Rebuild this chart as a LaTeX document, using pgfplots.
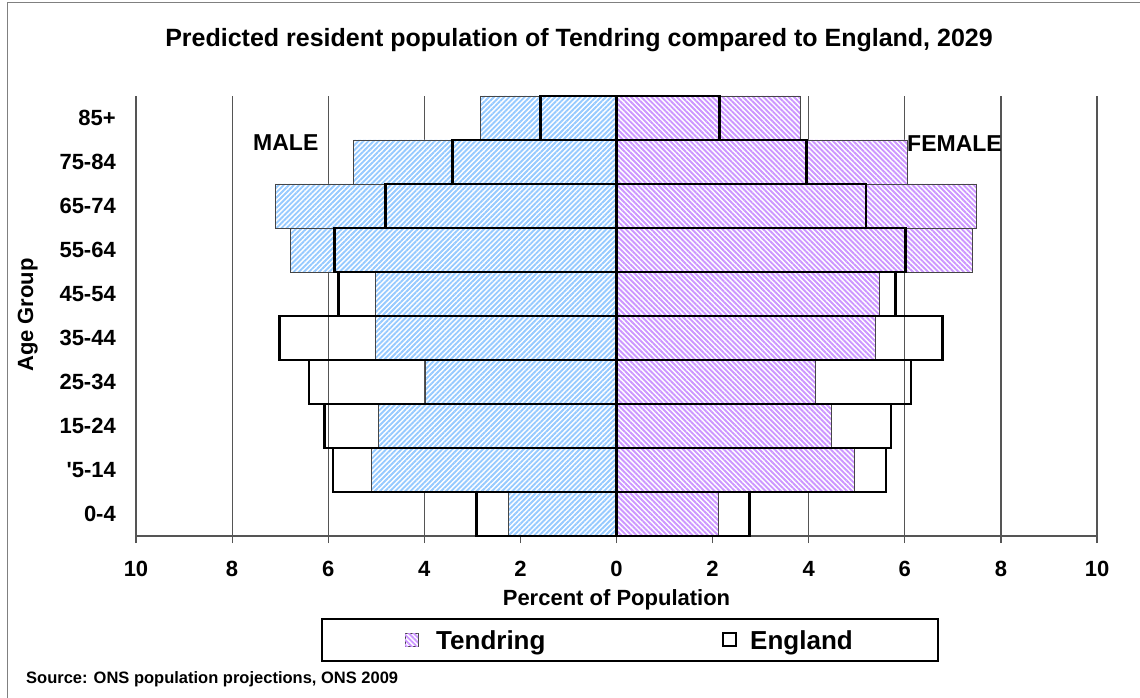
\documentclass[border=0pt]{standalone}
\usepackage{fontspec}
\setmainfont{Liberation Sans}
\usepackage{pgfplots}
\pgfplotsset{compat=1.18}
\usetikzlibrary{patterns.meta}

\definecolor{maleblue}{RGB}{150,202,255}
\definecolor{femlilac}{RGB}{204,150,255}
\definecolor{gridgray}{RGB}{85,85,85}
\definecolor{edgegray}{RGB}{70,70,70}

\newcommand{\fs}[1]{\fontsize{#1}{#1}\selectfont}

\tikzset{
  malehatch/.style={pattern={Lines[angle=45,distance=3.6pt,line width=1.9pt]}, pattern color=maleblue},
  femhatch/.style={pattern={Lines[angle=-45,distance=3.6pt,line width=1.9pt]}, pattern color=femlilac},
}

\begin{document}
\begin{tikzpicture}[x=1pt,y=1pt]
\useasboundingbox (0,0) rectangle (1140,-698);
% chart frame
\draw[gray, line width=1pt] (7,-705) -- (7,-3) -- (1147,-3);

\begin{axis}[
  at={(136pt,-536pt)}, anchor=south west,
  scale only axis, width=961pt, height=440pt,
  xmin=-10, xmax=10, ymin=-0.5, ymax=9.5,
  xbar, bar width=1,
  axis x line*=bottom, axis y line*=left,
  y axis line style={draw=none},
  x axis line style={gridgray, line width=1.2pt},
  tick align=outside,
  major tick length=7pt,
  xtick={-10,-8,...,10},
  xticklabels={10,8,6,4,2,0,2,4,6,8,10},
  xtick style={gridgray, line width=1.2pt},
  ytick={0,...,9},
  yticklabels={0-4,\textquotesingle5-14,15-24,25-34,35-44,45-54,55-64,65-74,75-84,85+},
  ytick style={draw=none},
  xmajorgrids,
  grid style={gridgray, line width=1.2pt},
  /pgf/number format/assume math mode=true,
  ticklabel style={font=\bfseries\fs{22}},
  xticklabel style={anchor=base, inner sep=0pt, yshift=-33pt},
  yticklabel style={anchor=east, inner sep=0pt, xshift=-13pt},
  xlabel={Percent of Population},
  every axis x label/.style={at={(axis description cs:0.5,0)}, anchor=base, yshift=-69pt, font=\bfseries\fs{22}},
]
% Tendring, male (negative) and female
\addplot[xbar, bar shift=0pt, fill=white, postaction={malehatch}, draw=edgegray, line width=0.9pt] coordinates {
(-2.24,0) (-5.10,1) (-4.96,2) (-3.98,3) (-5.01,4) (-5.01,5) (-6.78,6) (-7.10,7) (-5.47,8) (-2.84,9)
};
\addplot[xbar, bar shift=0pt, fill=white, postaction={femhatch}, draw=edgegray, line width=0.9pt] coordinates {
(2.12,0) (4.96,1) (4.47,2) (4.15,3) (5.38,4) (5.48,5) (7.41,6) (7.50,7) (6.06,8) (3.83,9)
};
% England, male and female
\addplot[xbar, bar shift=0pt, draw=black, line width=2.7pt] coordinates {
(-2.91,0) (-5.90,1) (-6.08,2) (-6.40,3) (-7.01,4) (-5.78,5) (-5.87,6) (-4.81,7) (-3.41,8) (-1.58,9)
};
\addplot[xbar, bar shift=0pt, draw=black, line width=2.7pt] coordinates {
(2.77,0) (5.61,1) (5.71,2) (6.13,3) (6.79,4) (5.80,5) (6.02,6) (5.19,7) (3.96,8) (2.14,9)
};
\end{axis}

% axis title on the left
\node[rotate=90, anchor=base, inner sep=0pt, font=\bfseries\fs{22}] at (33,-315) {Age Group};

% title and annotations
\node[anchor=base, font=\bfseries\fs{25}] at (579,-47) {Predicted resident population of Tendring compared to England, 2029};
\node[anchor=base west, inner sep=0pt, font=\bfseries\fs{23}] at (253,-150) {MALE};
\node[anchor=base west, inner sep=0pt, font=\bfseries\fs{23}] at (907,-151) {FEMALE};

% legend
\draw[black, line width=1.2pt] (322,-619) rectangle (938,-661);
\draw[edgegray, line width=0.8pt, fill=white, postaction={femhatch}] (405,-633) rectangle (418,-646);
\node[anchor=base west, inner sep=0pt, font=\bfseries\fs{26}] at (436,-649) {Tendring};
\draw[black, line width=1.2pt] (723,-633) rectangle (736,-646);
\node[anchor=base west, inner sep=0pt, font=\bfseries\fs{26}] at (750,-649) {England};

% source
\node[anchor=base west, inner sep=0pt, font=\bfseries\fs{16.5}] at (26,-683.3) {Source: ONS population projections, ONS 2009};
\end{tikzpicture}
\end{document}
